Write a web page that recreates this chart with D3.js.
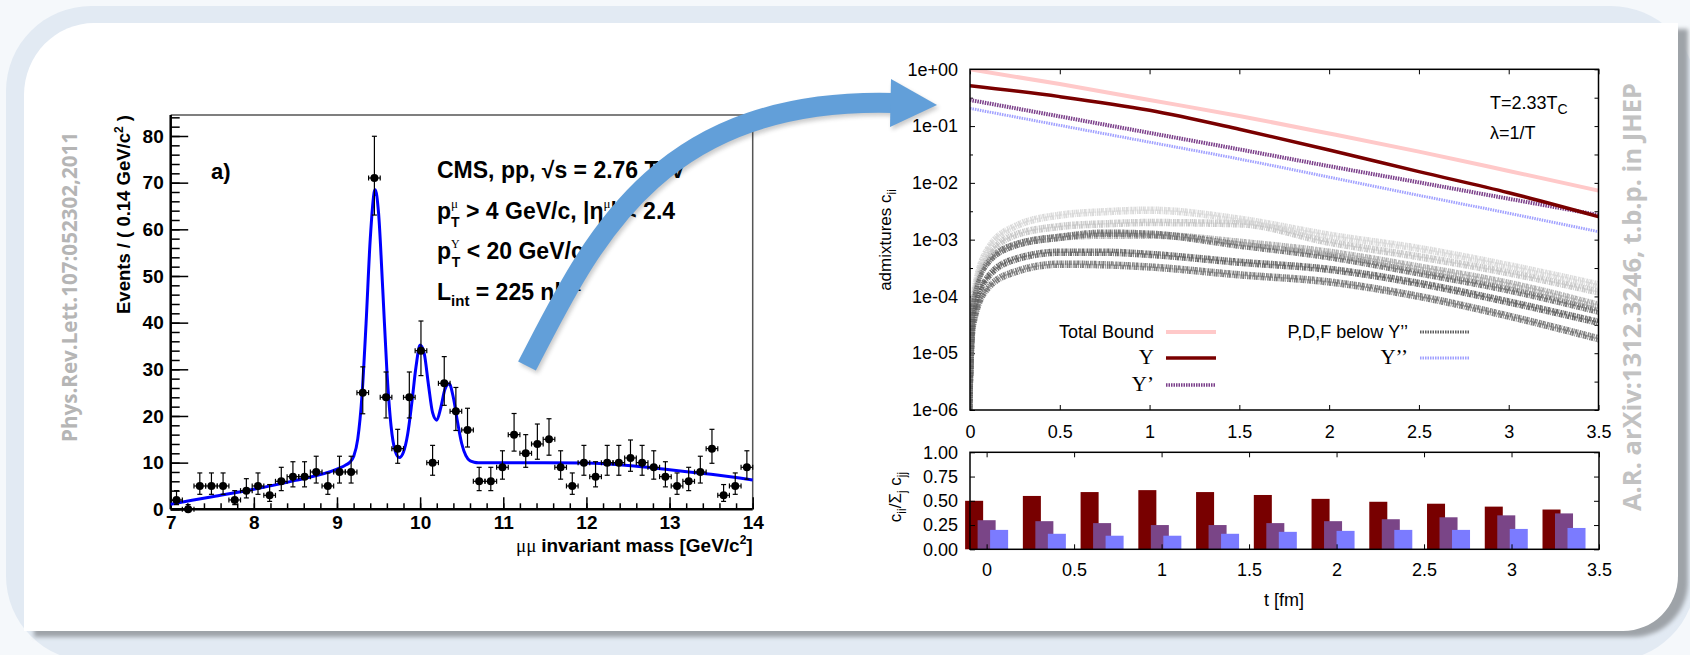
<!DOCTYPE html>
<html>
<head>
<meta charset="utf-8">
<script src="https://cdn.jsdelivr.net/npm/d3@7"></script>
<style>
  body { margin: 0; background: #fff; }
  svg { display: block; }
</style>
</head>
<body>
<script>
// ---- left panel: CMS dimuon spectrum ----
const massBins = [7.07, 7.21, 7.35, 7.49, 7.63, 7.77, 7.91, 8.05, 8.19, 8.33, 8.47, 8.61, 8.75, 8.89, 9.03, 9.17, 9.31, 9.45, 9.59, 9.73,
  9.87, 10.01, 10.15, 10.29, 10.43, 10.57, 10.71, 10.85, 10.99, 11.13, 11.27, 11.41, 11.55, 11.69, 11.83, 11.97, 12.11, 12.25, 12.39, 12.53,
  12.67, 12.81, 12.95, 13.09, 13.23, 13.37, 13.51, 13.65, 13.79, 13.93];
const counts = [2, 0, 5, 5, 5, 2, 4, 5, 3, 6, 7, 7, 8, 5, 8, 8, 25, 71, 24, 13,
  24, 34, 10, 27, 21, 17, 6, 6, 9, 16, 12, 14, 15, 9, 5, 10, 7, 10, 10, 11,
  10, 9, 7, 5, 6, 8, 13, 3, 5, 9];
const fitMass = [7.0, 7.5, 8.0, 8.5, 9.0, 9.05, 9.1, 9.15, 9.2, 9.25, 9.3, 9.35, 9.4, 9.45, 9.46, 9.5, 9.55, 9.6, 9.65, 9.7,
  9.75, 9.8, 9.85, 9.9, 9.95, 10.0, 10.05, 10.1, 10.15, 10.2, 10.25, 10.3, 10.35, 10.4, 10.45, 10.5, 10.55, 10.6, 10.65, 10.7,
  11.0, 11.5, 12.0, 12.5, 13.0, 13.5, 14.0];
const fitEvents = [1.1, 2.7, 4.3, 6.2, 8.6, 9.0, 9.45, 10.0, 11.3, 15.1, 24.2, 39.9, 57.9, 68.2, 68.5, 63.5, 47.3, 29.8, 17.9, 12.5,
  11.1, 12.3, 16.1, 22.8, 30.5, 35.2, 33.3, 26.7, 20.7, 19.1, 21.9, 25.8, 26.9, 23.9, 18.7, 14.1, 11.5, 10.4, 10.1, 10.0,
  10.0, 10.0, 9.9, 9.4, 8.5, 7.5, 6.3];
const massTicks = [7, 8, 9, 10, 11, 12, 13, 14];
const eventTicks = [0, 10, 20, 30, 40, 50, 60, 70, 80];

// ---- right panel: admixtures vs time ----
const tGrid = [0, 0.5, 1.0, 1.5, 2.0, 2.5, 3.0, 3.5];
const totalBound = [1.0, 0.55, 0.288, 0.151, 0.074, 0.0355, 0.0162, 0.0073];
const ups1S = [0.514, 0.33, 0.19, 0.088, 0.038, 0.0158, 0.0067, 0.00254];
const ups2S = [0.288, 0.148, 0.0759, 0.0389, 0.0197, 0.0102, 0.00525, 0.00272];
const ups3S = [0.205, 0.103, 0.0521, 0.0263, 0.0126, 0.00603, 0.00292, 0.00138];

// excited P,D,F states (noisy bands), read along this time grid
const bandT = [0, 0.02, 0.1, 0.25, 0.5, 0.75, 1.0, 1.5, 2.0, 2.5, 3.0, 3.5];
const bandA = [1e-6, 1.2e-4, 7e-4, 1.7e-3, 2.7e-3, 3.1e-3, 3.3e-3, 2.3e-3, 1.2e-3, 7e-4, 3.5e-4, 1.6e-4];
const bandB = [1e-6, 1e-4, 5e-4, 1.2e-3, 1.7e-3, 1.9e-3, 2.0e-3, 1.9e-3, 9e-4, 5e-4, 2.6e-4, 1.2e-4];
const bandC = [1e-6, 8e-5, 4e-4, 8e-4, 1.1e-3, 1.2e-3, 1.2e-3, 9e-4, 6e-4, 3.3e-4, 1.7e-4, 7e-5];
const bandD = [1e-6, 9e-5, 4e-4, 8e-4, 1.1e-3, 1.3e-3, 1.25e-3, 8e-4, 5e-4, 2.6e-4, 1.3e-4, 5.5e-5];
const bandE = [1e-6, 5e-5, 2.2e-4, 4.5e-4, 6e-4, 6e-4, 5.5e-4, 4e-4, 3e-4, 1.7e-4, 8e-5, 3.5e-5];
const bandF = [1e-6, 3e-5, 1.4e-4, 2.7e-4, 3.7e-4, 3.6e-4, 3.3e-4, 2.4e-4, 1.8e-4, 1e-4, 4.5e-5, 1.8e-5];

const logTicks = [1, 1e-1, 1e-2, 1e-3, 1e-4, 1e-5, 1e-6];
const timeTicks = [0, 0.5, 1, 1.5, 2, 2.5, 3, 3.5];

// ---- bottom right: fractions ----
const barT = [0, 0.33, 0.66, 0.99, 1.32, 1.65, 1.98, 2.31, 2.64, 2.97, 3.3];
const frac1S = [0.50, 0.55, 0.59, 0.61, 0.59, 0.56, 0.52, 0.49, 0.47, 0.44, 0.41];
const frac2S = [0.30, 0.29, 0.27, 0.25, 0.25, 0.27, 0.29, 0.31, 0.33, 0.35, 0.37];
const frac3S = [0.20, 0.16, 0.14, 0.14, 0.16, 0.18, 0.19, 0.20, 0.20, 0.21, 0.22];
const fracTicks = [0, 0.25, 0.5, 0.75, 1];

const W = 1690, H = 655;
const svg = d3.select("body").append("svg")
  .attr("width", W).attr("height", H)
  .style("font-family", "'Liberation Sans', Arial, sans-serif");

const defs = svg.append("defs");
defs.append("filter").attr("id", "blur").append("feGaussianBlur").attr("stdDeviation", 2);
defs.append("clipPath").attr("id", "clipR").append("rect")
  .attr("x", 970).attr("y", 69.3).attr("width", 628.5).attr("height", 340.7);

// slide background
svg.append("rect").attr("width", W).attr("height", H).attr("fill", "#f5f8fb");
svg.append("rect").attr("x", 6).attr("y", 6).attr("width", W).attr("height", H).attr("rx", 85).attr("fill", "#e2eaf3");
const panel = "M24,95 A70,72 0 0 1 94,23 L1678,23 L1678,576 A55,55 0 0 1 1623,631 L24,631 Z";
svg.append("path").attr("d", panel).attr("transform", "translate(10,6)").attr("fill", "#9ea3a8").attr("filter", "url(#blur)");
svg.append("path").attr("d", panel).attr("fill", "#fff");

// side references
svg.append("text").attr("transform", "translate(77,287) rotate(-90)")
  .attr("text-anchor", "middle").attr("font-family", "'Open Sans', sans-serif").attr("font-weight", "bold")
  .attr("font-size", 21).attr("fill", "#b5b5b5").attr("textLength", 310).attr("lengthAdjust", "spacingAndGlyphs")
  .text("Phys.Rev.Lett.107:052302,2011");
svg.append("text").attr("transform", "translate(1641,297) rotate(-90)")
  .attr("text-anchor", "middle").attr("font-family", "'Open Sans', sans-serif").attr("font-weight", "bold")
  .attr("font-size", 25).attr("fill", "#c2c2c2").attr("textLength", 428).attr("lengthAdjust", "spacingAndGlyphs")
  .text("A.R. arXiv:1312.3246, t.b.p. in JHEP");

// ================= left chart =================
const xL = d3.scaleLinear().domain([7, 14]).range([170.7, 752.7]);
const yL = d3.scaleLinear().domain([0, 84.5]).range([509.3, 115]);
const gL = svg.append("g").attr("font-weight", "bold");

gL.append("path")
  .attr("d", `M${xL(7)},${yL(84.5)}H${xL(14)}V${yL(0)}`)
  .attr("fill", "none").attr("stroke", "#555").attr("stroke-width", 1.5);

function styleAxis(g, size) {
  g.attr("font-family", null).attr("font-size", size);
  g.select(".domain").remove();
  g.selectAll("line").attr("stroke", "#000").attr("stroke-width", 1.5);
  g.selectAll("text").attr("fill", "#000");
}

gL.append("g").attr("transform", `translate(${xL(7)},0)`)
  .call(d3.axisRight(yL).tickValues(d3.range(0, 85, 2)).tickSize(9).tickFormat(""))
  .call(g => styleAxis(g, 18));
gL.append("g").attr("transform", `translate(${xL(7)},0)`)
  .call(d3.axisLeft(yL).tickValues(eventTicks).tickFormat(d3.format("d")).tickSizeInner(-17.5).tickSizeOuter(0).tickPadding(7))
  .call(g => styleAxis(g, 19));
gL.append("g").attr("transform", `translate(0,${yL(0)})`)
  .call(d3.axisTop(xL).tickValues(d3.range(7, 14.01, 0.2)).tickSize(6).tickFormat(""))
  .call(g => styleAxis(g, 18));
gL.append("g").attr("transform", `translate(0,${yL(0)})`)
  .call(d3.axisBottom(xL).tickValues(massTicks).tickFormat(d3.format("d")).tickSizeInner(-12).tickSizeOuter(0).tickPadding(6))
  .call(g => styleAxis(g, 19));
gL.append("line").attr("x1", xL(7)).attr("x2", xL(7)).attr("y1", yL(0)).attr("y2", yL(84.5))
  .attr("stroke", "#000").attr("stroke-width", 2.5);
gL.append("line").attr("x1", xL(7)).attr("x2", xL(14)).attr("y1", yL(0)).attr("y2", yL(0))
  .attr("stroke", "#000").attr("stroke-width", 2.5);

// axis titles
gL.append("text").attr("transform", `translate(130,${yL(84.5)}) rotate(-90)`)
  .attr("text-anchor", "end").attr("font-size", 18.5)
  .call(t => {
    t.append("tspan").text("Events / ( 0.14 GeV/c");
    t.append("tspan").attr("dy", -7).attr("font-size", 12).text("2");
    t.append("tspan").attr("dy", 7).text(" )");
  });
gL.append("text").attr("x", xL(14)).attr("y", 552).attr("text-anchor", "end").attr("font-size", 19)
  .call(t => {
    t.append("tspan").attr("font-family", "'Liberation Serif', serif").attr("font-weight", "normal").text("μμ ");
    t.append("tspan").text("invariant mass [GeV/c");
    t.append("tspan").attr("dy", -8).attr("font-size", 12).text("2");
    t.append("tspan").attr("dy", 8).text("]");
  });

gL.append("text").attr("x", 211).attr("y", 179).attr("font-size", 22).text("a)");

// CMS label block
const lab = gL.append("g").attr("font-size", 23);
lab.append("text").attr("x", 437).attr("y", 178).text("CMS, pp, √s = 2.76 TeV");
lab.append("text").attr("x", 437).attr("y", 219).call(t => {
  t.append("tspan").text("p");
  t.append("tspan").attr("dy", -11).attr("font-size", 13).attr("font-family", "'Liberation Serif', serif").attr("font-weight", "normal").text("μ");
  t.append("tspan").attr("dx", -7).attr("dy", 19).attr("font-size", 14).text("T");
  t.append("tspan").attr("dy", -8).text(" > 4 GeV/c, |η");
  t.append("tspan").attr("dy", -11).attr("font-size", 13).attr("font-family", "'Liberation Serif', serif").attr("font-weight", "normal").text("μ");
  t.append("tspan").attr("dy", 11).text("| < 2.4");
});
lab.append("text").attr("x", 437).attr("y", 259).call(t => {
  t.append("tspan").text("p");
  t.append("tspan").attr("dy", -11).attr("font-size", 12).attr("font-family", "'Liberation Serif', serif").attr("font-weight", "normal").text("Υ");
  t.append("tspan").attr("dx", -8).attr("dy", 19).attr("font-size", 14).text("T");
  t.append("tspan").attr("dy", -8).text(" < 20 GeV/c");
});
lab.append("text").attr("x", 437).attr("y", 300).call(t => {
  t.append("tspan").text("L");
  t.append("tspan").attr("dy", 6).attr("font-size", 15).text("int");
  t.append("tspan").attr("dy", -6).text(" = 225 nb");
  t.append("tspan").attr("dy", -9).attr("font-size", 14).text("-1");
});

// fit curve
gL.append("path")
  .datum(fitMass.map((m, i) => [m, fitEvents[i]]))
  .attr("fill", "none").attr("stroke", "#0000ff").attr("stroke-width", 3)
  .attr("d", d3.line().x(d => xL(d[0])).y(d => yL(d[1])).curve(d3.curveMonotoneX));

// data points with poisson-like error bars
const pts = counts.map((c, i) => ({
  m: massBins[i], c,
  lo: c + 0.5 - Math.sqrt(c + 0.25),
  hi: c + 0.5 + Math.sqrt(c + 0.25)
}));
const pg = gL.append("g").attr("stroke", "#000").attr("stroke-width", 1.2);
pg.selectAll(".ev").data(pts).join("line").attr("class", "ev")
  .attr("x1", d => xL(d.m)).attr("x2", d => xL(d.m)).attr("y1", d => yL(d.lo)).attr("y2", d => yL(d.hi));
pg.selectAll(".capH").data(pts).join("line").attr("class", "capH")
  .attr("x1", d => xL(d.m) - 2.5).attr("x2", d => xL(d.m) + 2.5).attr("y1", d => yL(d.hi)).attr("y2", d => yL(d.hi));
pg.selectAll(".capL").data(pts).join("line").attr("class", "capL")
  .attr("x1", d => xL(d.m) - 2.5).attr("x2", d => xL(d.m) + 2.5).attr("y1", d => yL(d.lo)).attr("y2", d => yL(d.lo));
pg.selectAll(".eh").data(pts).join("line").attr("class", "eh")
  .attr("x1", d => xL(d.m - 0.07)).attr("x2", d => xL(d.m + 0.07)).attr("y1", d => yL(d.c)).attr("y2", d => yL(d.c));
pg.selectAll(".capX").data(pts.flatMap(d => [[d.m - 0.07, d.c], [d.m + 0.07, d.c]])).join("line").attr("class", "capX")
  .attr("x1", d => xL(d[0])).attr("x2", d => xL(d[0])).attr("y1", d => yL(d[1]) - 2.5).attr("y2", d => yL(d[1]) + 2.5);
gL.append("g").selectAll("circle").data(pts).join("circle")
  .attr("cx", d => xL(d.m)).attr("cy", d => yL(d.c)).attr("r", 4).attr("fill", "#000");

// ================= right top chart =================
const xR = d3.scaleLinear().domain([0, 3.5]).range([970, 1598.5]);
const yR = d3.scaleLog().domain([1e-6, 1]).range([410, 69.3]);
const gR = svg.append("g");

const expFmt = d => {
  const e = Math.round(Math.log10(d));
  return "1e" + (e >= 0 ? "+" : "-") + String(Math.abs(e)).padStart(2, "0");
};
const halfDecades = logTicks.slice(1).map(v => v * Math.sqrt(10));

gR.append("g").attr("transform", "translate(970,0)")
  .call(d3.axisLeft(yR).tickValues(logTicks).tickFormat(expFmt).tickSizeInner(-5).tickSizeOuter(0).tickPadding(12))
  .call(g => styleAxis(g, 18));
gR.append("g").attr("transform", "translate(970,0)")
  .call(d3.axisRight(yR).tickValues(halfDecades).tickSize(3).tickFormat(""))
  .call(g => styleAxis(g, 18));
gR.append("g").attr("transform", "translate(1598.5,0)")
  .call(d3.axisLeft(yR).tickValues(logTicks.concat(halfDecades)).tickSize(4).tickFormat(""))
  .call(g => styleAxis(g, 18));
gR.append("g").attr("transform", "translate(0,410)")
  .call(d3.axisBottom(xR).tickValues(timeTicks).tickFormat(d => String(d)).tickSizeInner(-5).tickSizeOuter(0).tickPadding(15))
  .call(g => styleAxis(g, 18));
gR.append("g").attr("transform", "translate(0,69.3)")
  .call(d3.axisBottom(xR).tickValues(timeTicks).tickSize(5).tickFormat(""))
  .call(g => styleAxis(g, 18));
gR.selectAll("line").attr("stroke-width", 1);

gR.append("text").attr("transform", "translate(891,240) rotate(-90)").attr("text-anchor", "middle").attr("font-size", 17)
  .call(t => {
    t.append("tspan").text("admixtures c");
    t.append("tspan").attr("dy", 5).attr("font-size", 12).text("ii");
  });

const lineR = d3.line().x(d => xR(d[0])).y(d => yR(d[1])).curve(d3.curveMonotoneX);
const plotR = gR.append("g").attr("clip-path", "url(#clipR)");

const bands = [
  { v: bandA, c: "#d6d6d6" },
  { v: bandB, c: "#c4c4c4" },
  { v: bandC, c: "#a9a9a9" },
  { v: bandD, c: "#6c6c6c" },
  { v: bandF, c: "#717171" },
  { v: bandE, c: "#5e5e5e" }
];
// grainy look: irregular dash pattern, drawn twice slightly offset
[[-1.5, "1 0.7 2 0.5 0.8 1.2 1.6 0.6"], [1.5, "0.8 1.1 1.4 0.5 2 0.9"]].forEach(([dy, dash]) => {
  plotR.append("g").attr("transform", `translate(0,${dy})`)
    .selectAll("path").data(bands).join("path")
    .attr("fill", "none").attr("stroke", d => d.c).attr("stroke-width", 4.5)
    .attr("stroke-dasharray", dash).attr("stroke-opacity", 0.9)
    .attr("d", d => lineR(bandT.map((t, i) => [t, d.v[i]])));
});

const mainLines = [
  { v: totalBound, c: "#ffc9c9", w: 4, dash: null },
  { v: ups3S, c: "#a0a0ff", w: 3, dash: "1.5 1" },
  { v: ups2S, c: "#7b3f8a", w: 4, dash: "1.5 1" },
  { v: ups1S, c: "#7a0000", w: 3.5, dash: null }
];
plotR.selectAll(".main").data(mainLines).join("path").attr("class", "main")
  .attr("fill", "none").attr("stroke", d => d.c).attr("stroke-width", d => d.w)
  .attr("stroke-dasharray", d => d.dash)
  .attr("d", d => lineR(tGrid.map((t, i) => [t, d.v[i]])));

gR.append("rect").attr("x", 970).attr("y", 69.3).attr("width", 628.5).attr("height", 340.7)
  .attr("fill", "none").attr("stroke", "#000").attr("stroke-width", 1.5);

gR.append("text").attr("x", 1490).attr("y", 109).attr("font-size", 18).call(t => {
  t.append("tspan").text("T=2.33T");
  t.append("tspan").attr("dy", 5).attr("font-size", 14).text("C");
});
gR.append("text").attr("x", 1490).attr("y", 139).attr("font-size", 18).text("λ=1/T");

// legend
const legend = [
  { label: "Total Bound", serif: false, x: 1154, y: 338, c: "#ffc9c9", w: 4, dash: null },
  { label: "Υ", serif: true, x: 1154, y: 364, c: "#7a0000", w: 3.5, dash: null },
  { label: "Υ’", serif: true, x: 1154, y: 391, c: "#7b3f8a", w: 3.5, dash: "1.5 1" },
  { label: "P,D,F below Υ’’", serif: false, x: 1408, y: 338, c: "#5e5e5e", w: 3, dash: "1.5 1" },
  { label: "Υ’’", serif: true, x: 1408, y: 364, c: "#a0a0ff", w: 3, dash: "1.5 1" }
];
const lg = gR.selectAll(".lg").data(legend).join("g").attr("class", "lg");
lg.append("text").attr("x", d => d.x).attr("y", d => d.y).attr("text-anchor", "end").attr("font-size", d => d.serif ? 21 : 18)
  .attr("font-family", d => d.serif ? "'Liberation Serif', serif" : null).text(d => d.label);
lg.append("line").attr("x1", d => d.x + 12).attr("x2", d => d.x + 62).attr("y1", d => d.y - 6).attr("y2", d => d.y - 6)
  .attr("stroke", d => d.c).attr("stroke-width", d => d.w).attr("stroke-dasharray", d => d.dash);

// ================= right bottom chart =================
const xB = d3.scaleLinear().domain([-0.095, 3.5]).range([970, 1599]);
const yB = d3.scaleLinear().domain([0, 1]).range([549.3, 452.3]);
const gB = svg.append("g");

const barW = xB(0.103) - xB(0);
const series = [
  { v: frac1S, off: -0.0714, c: "#780000" },
  { v: frac2S, off: 0, c: "#7a4587" },
  { v: frac3S, off: 0.0714, c: "#7b7bff" }
];
series.forEach(s => {
  gB.append("g").selectAll("rect").data(barT.map((t, i) => ({ t, v: s.v[i] }))).join("rect")
    .attr("x", d => xB(d.t + s.off) - barW / 2).attr("width", barW)
    .attr("y", d => yB(d.v)).attr("height", d => yB(0) - yB(d.v))
    .attr("fill", s.c);
});

gB.append("g").attr("transform", "translate(970,0)")
  .call(d3.axisLeft(yB).tickValues(fracTicks).tickFormat(d3.format(".2f")).tickSizeInner(-5).tickSizeOuter(0).tickPadding(12))
  .call(g => styleAxis(g, 18));
gB.append("g").attr("transform", "translate(1599,0)")
  .call(d3.axisLeft(yB).tickValues(fracTicks).tickSize(5).tickFormat(""))
  .call(g => styleAxis(g, 18));
gB.append("g").attr("transform", "translate(0,549.3)")
  .call(d3.axisBottom(xB).tickValues(timeTicks).tickFormat(d => String(d)).tickSizeInner(-5).tickSizeOuter(0).tickPadding(14))
  .call(g => styleAxis(g, 18));
gB.append("g").attr("transform", "translate(0,452.3)")
  .call(d3.axisBottom(xB).tickValues(timeTicks).tickSize(5).tickFormat(""))
  .call(g => styleAxis(g, 18));
gB.selectAll("line").attr("stroke-width", 1);
gB.append("rect").attr("x", 970).attr("y", 452.3).attr("width", 629).attr("height", 97)
  .attr("fill", "none").attr("stroke", "#000").attr("stroke-width", 1.5);

gB.append("text").attr("transform", "translate(901,497) rotate(-90)").attr("text-anchor", "middle").attr("font-size", 17)
  .call(t => {
    t.append("tspan").text("c");
    t.append("tspan").attr("dy", 5).attr("font-size", 12).text("ii");
    t.append("tspan").attr("dy", -5).text("/Σ");
    t.append("tspan").attr("dy", 5).attr("font-size", 12).text("j");
    t.append("tspan").attr("dy", -5).text(" c");
    t.append("tspan").attr("dy", 5).attr("font-size", 12).text("jj");
  });
gB.append("text").attr("x", 1284).attr("y", 606).attr("text-anchor", "middle").attr("font-size", 18).text("t [fm]");

// ================= arrow =================
const arrowShaft = "M527,366 C590,245 655,97 893,103";
const arrowHead = "M937,105 L891,79 L890,127 Z";
const ga = svg.append("g");
ga.append("g").attr("transform", "translate(2,3)").attr("opacity", 0.25).attr("filter", "url(#blur)")
  .call(g => {
    g.append("path").attr("d", arrowShaft).attr("fill", "none").attr("stroke", "#333").attr("stroke-width", 20);
    g.append("path").attr("d", arrowHead).attr("fill", "#333");
  });
ga.append("path").attr("d", arrowShaft).attr("fill", "none").attr("stroke", "#629fd9").attr("stroke-width", 20);
ga.append("path").attr("d", arrowHead).attr("fill", "#629fd9");
</script>
</body>
</html>
